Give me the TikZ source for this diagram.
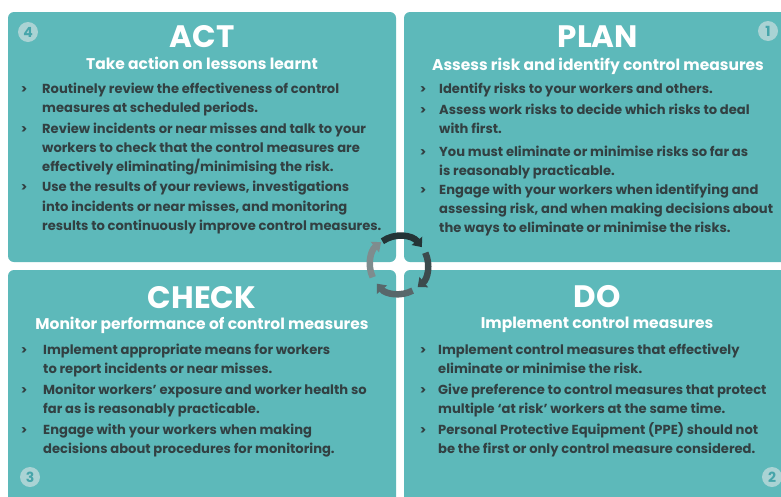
\documentclass[tikz,border=0pt]{standalone}
\usepackage{fontspec}
\setmainfont{Poppins}
\usetikzlibrary{arrows.meta}
\definecolor{panelteal}{RGB}{93,185,186}
\definecolor{bodytxt}{RGB}{50,64,66}
\definecolor{numfill}{RGB}{170,211,212}
\definecolor{numtxt}{RGB}{70,165,170}
\definecolor{arcA}{RGB}{36,52,54}
\definecolor{arcB}{RGB}{60,75,77}
\definecolor{arcC}{RGB}{88,103,106}
\definecolor{arcD}{RGB}{127,140,142}
\begin{document}
\begin{tikzpicture}[x=1pt,y=-1pt,
  panel/.style={fill=panelteal, rounded corners=6pt},
  ttl/.style={text=white, font=\fontsize{31}{31}\selectfont\bfseries, anchor=base, inner sep=0pt},
  sub/.style={text=white, font=\fontsize{15.5}{16}\selectfont\bfseries, anchor=base, inner sep=0pt},
  body/.style={text=bodytxt, font=\fontsize{13.1}{14}\selectfont\bfseries, anchor=base west, inner sep=0pt},
  bul/.style={text=bodytxt, font=\fontsize{12}{12}\selectfont\bfseries, anchor=base, inner sep=0pt},
  num/.style={circle, fill=numfill, text=numtxt, minimum size=20pt, inner sep=0pt, font=\fontsize{14}{14}\selectfont\bfseries},
  cyc/.style={line width=6.5pt, -{Triangle[width=13pt,length=8pt]}}]
\useasboundingbox (0,0) rectangle (781,496);
\clip (0,0) rectangle (781,496);
\fill[white] (0,0) rectangle (781,496);
% panels
\path[panel] (8,12) rectangle (396,262);
\path[panel] (404,12) rectangle (790,262);
\path[panel] (8,270) rectangle (396,505);
\path[panel] (404,270) rectangle (790,505);
% number badges
\node[num] (n4) at (28,32) {4};
\node[num] (n1) at (768,31) {1};
\node[num] (n3) at (30,477) {3};
\node[num] (n2) at (772,477) {2};
% ACT
\node[ttl] (actT) at (202,47) {ACT};
\node[sub] (actS) at (202,69) {Take action on lessons learnt};
\node[bul] (ab1) at (24,93) {>};
\node[bul] (ab2) at (24,133) {>};
\node[bul] (ab3) at (24,191) {>};
\node[body] (a1) at (42,93) {Routinely review the effectiveness of control};
\node[body] (a2) at (42,112) {measures at scheduled periods.};
\node[body] (a3) at (42,133) {Review incidents or near misses and talk to your};
\node[body] (a4) at (42,152) {workers to check that the control measures are};
\node[body] (a5) at (42,171) {effectively eliminating/minimising the risk.};
\node[body] (a6) at (42,191) {Use the results of your reviews, investigations};
\node[body] (a7) at (42,211) {into incidents or near misses, and monitoring};
\node[body] (a8) at (42,230) {results to continuously improve control measures.};
% PLAN
\node[ttl] (planT) at (598,47) {PLAN};
\node[sub] (planS) at (598,70) {Assess risk and identify control measures};
\node[bul] (pb1) at (423,93) {>};
\node[bul] (pb2) at (423,114) {>};
\node[bul] (pb3) at (423,156) {>};
\node[bul] (pb4) at (423,194) {>};
\node[body] (p1) at (439,93) {Identify risks to your workers and others.};
\node[body] (p2) at (439,114) {Assess work risks to decide which risks to deal};
\node[body] (p3) at (439,133) {with first.};
\node[body] (p4) at (439,156) {You must eliminate or minimise risks so far as};
\node[body] (p5) at (439,175) {is reasonably practicable.};
\node[body] (p6) at (439,194) {Engage with your workers when identifying and};
\node[body] (p7) at (439,213) {assessing risk, and when making decisions about};
\node[body] (p8) at (439,232) {the ways to eliminate or minimise the risks.};
% CHECK
\node[ttl] (chkT) at (202,308) {CHECK};
\node[sub] (chkS) at (202,329) {Monitor performance of control measures};
\node[bul] (cb1) at (24,354) {>};
\node[bul] (cb2) at (24,394) {>};
\node[bul] (cb3) at (24,434) {>};
\node[body] (c1) at (43,354) {Implement appropriate means for workers};
\node[body] (c2) at (43,373) {to report incidents or near misses.};
\node[body] (c3) at (43,394) {Monitor workers’ exposure and worker health so};
\node[body] (c4) at (43,413) {far as is reasonably practicable.};
\node[body] (c5) at (43,434) {Engage with your workers when making};
\node[body] (c6) at (43,453) {decisions about procedures for monitoring.};
% DO
\node[ttl] (doT) at (597,307) {DO};
\node[sub] (doS) at (597,328) {Implement control measures};
\node[bul] (db1) at (423,354) {>};
\node[bul] (db2) at (423,394) {>};
\node[bul] (db3) at (423,434) {>};
\node[body] (d1) at (438,354) {Implement control measures that effectively};
\node[body] (d2) at (438,373) {eliminate or minimise the risk.};
\node[body] (d3) at (438,394) {Give preference to control measures that protect};
\node[body] (d4) at (438,413) {multiple ‘at risk’ workers at the same time.};
\node[body] (d5) at (438,434) {Personal Protective Equipment (PPE) should not};
\node[body] (d6) at (438,453) {be the first or only control measure considered.};
% cycle icon
\begin{scope}[shift={(399,265)}, yscale=-1]
  \draw[cyc, arcA] (125:29) arc[start angle=125, end angle=38, radius=29];
  \draw[cyc, arcB] (25:29) arc[start angle=25, end angle=-50, radius=29];
  \draw[cyc, arcC] (-62:29) arc[start angle=-62, end angle=-140, radius=29];
  \draw[cyc, arcD] (-155:29) arc[start angle=-155, end angle=-232, radius=29];
\end{scope}
\end{tikzpicture}
\end{document}
